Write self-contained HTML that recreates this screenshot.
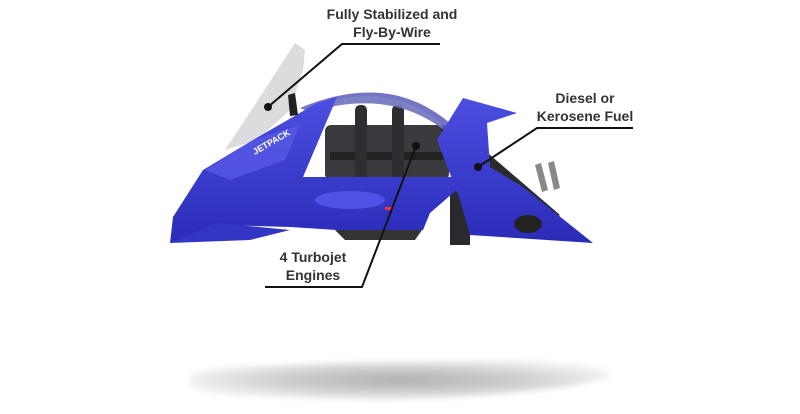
<!DOCTYPE html>
<html><head><style>
html,body{margin:0;padding:0;background:#fff;}
svg{display:block;}
text{font-family:"Liberation Sans",sans-serif;font-weight:bold;font-size:14px;fill:#333;}
</style></head><body>
<svg width="800" height="414" viewBox="0 0 800 414">
<defs>
<radialGradient id="sh" cx="0.5" cy="0.5" r="0.5">
<stop offset="0" stop-color="#b0b0b0"/><stop offset="0.6" stop-color="#d0d0d0"/><stop offset="1" stop-color="#f0f0f0"/>
</radialGradient>
<linearGradient id="bl" x1="0" y1="0" x2="0" y2="1">
<stop offset="0" stop-color="#4b4ee0"/><stop offset="1" stop-color="#2a2cb8"/>
</linearGradient>
<filter id="bf"><feGaussianBlur stdDeviation="3"/></filter>
</defs>
<path d="M190,375 Q200,368 260,366 Q320,362 500,360 Q580,361 612,373 Q600,385 520,392 Q400,404 300,398 Q200,396 190,386 Z" fill="url(#sh)" filter="url(#bf)"/>
<!-- windshield -->
<polygon points="225,150 260,97 295,43 305,50 303,70 290,110 257,140" fill="#d0d0d4" opacity="0.75"/>
<!-- engine box -->
<rect x="325" y="125" width="124" height="55" rx="6" fill="#3a3a3e"/>
<rect x="330" y="152" width="115" height="8" fill="#222"/>
<rect x="355" y="105" width="12" height="75" rx="5" fill="#2e2e32"/>
<rect x="392" y="105" width="12" height="75" rx="5" fill="#2e2e32"/>
<!-- canopy -->
<path d="M300,108 Q390,70 452,125 L444,130 Q390,88 310,112 Z" fill="#5a5cb8" opacity="0.85"/>
<path d="M310,112 Q390,88 444,130 L440,122 Q390,82 318,104 Z" fill="#8a8cc8" opacity="0.5"/>
<!-- rear struts -->
<polygon points="440,130 455,125 560,215 548,222" fill="#2a2a2e"/>
<polygon points="450,180 470,175 470,245 450,245" fill="#2a2a2e"/>
<!-- exhaust pipes -->
<polygon points="535,165 541,163 548,190 542,192" fill="#888"/>
<polygon points="548,163 554,161 560,188 554,190" fill="#888"/>
<!-- right rear wing -->
<polygon points="463,98 517,113 487,123 490,167 523,187 593,243 470,235 460,200 437,140" fill="url(#bl)"/>
<ellipse cx="528" cy="224" rx="14" ry="9" fill="#222"/>
<!-- main left body -->
<polygon points="173,217 203,170 253,140 317,103 337,97 303,177 460,177 460,187 430,213 423,230 337,230 290,227 217,225 170,243" fill="url(#bl)"/>
<polygon points="205,170 253,140 300,125 285,160 230,180" fill="#5a5de8" opacity="0.7"/>
<polygon points="335,230 422,230 415,240 345,240" fill="#333"/>
<ellipse cx="350" cy="200" rx="35" ry="9" fill="#4f52e6"/>
<rect x="385" y="207" width="8" height="3" fill="#f33"/>
<polygon points="170,243 217,223 290,230 250,240" fill="#3335c4"/>
<text x="255" y="155" style="font-size:9px;fill:#fff" transform="rotate(-30 255 155)">JETPACK</text>
<!-- handle -->
<polygon points="288,95 295,93 298,115 290,116" fill="#222"/>
<!-- callouts -->
<g stroke="#111" stroke-width="2" fill="none">
<polyline points="440,44 342,44 268,107"/>
<polyline points="633,128 537,128 478,167"/>
<polyline points="265,287 362,287 416,146"/>
</g>
<circle cx="268" cy="107" r="4" fill="#111"/>
<circle cx="478" cy="167" r="4" fill="#111"/>
<circle cx="416" cy="146" r="4" fill="#111"/>
<text x="392" y="19" text-anchor="middle">Fully Stabilized and</text>
<text x="392" y="37" text-anchor="middle">Fly-By-Wire</text>
<text x="585" y="103" text-anchor="middle">Diesel or</text>
<text x="585" y="121" text-anchor="middle">Kerosene Fuel</text>
<text x="313" y="262" text-anchor="middle">4 Turbojet</text>
<text x="313" y="280" text-anchor="middle">Engines</text>
</svg>
</body></html>
